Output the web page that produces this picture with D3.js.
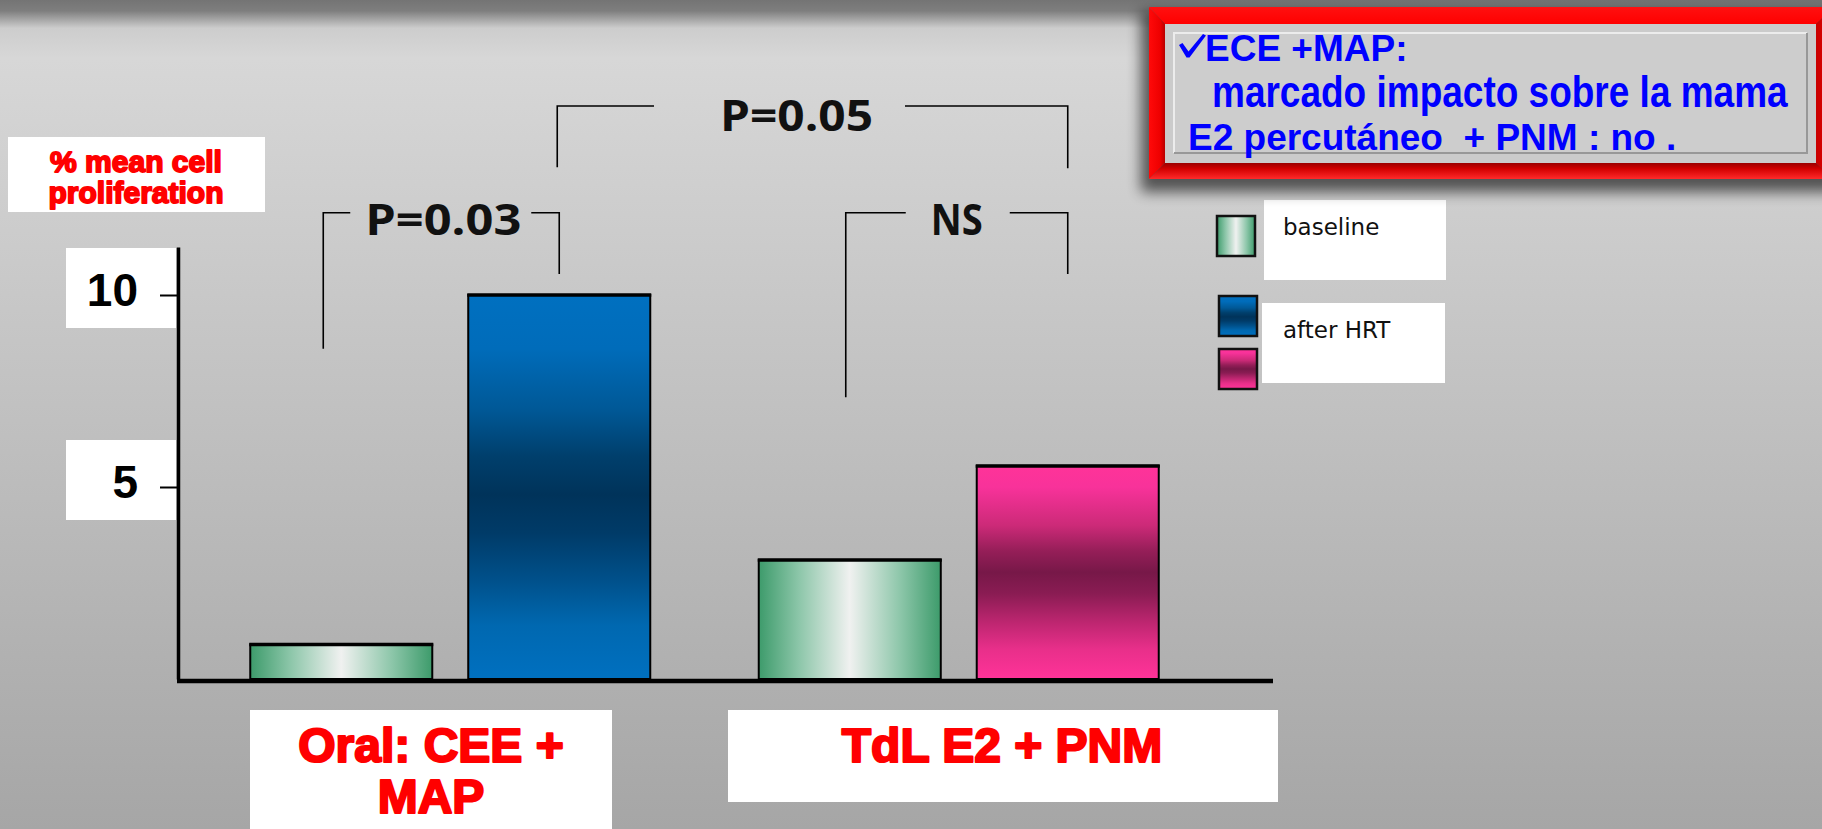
<!DOCTYPE html>
<html>
<head>
<meta charset="utf-8">
<script src="https://cdn.jsdelivr.net/npm/d3@7"></script>
<style>
  html, body { margin: 0; padding: 0; overflow: hidden; background: #c8c8c8; }
  svg { display: block; }
</style>
</head>
<body>
<svg id="chart" width="1822" height="829"></svg>
<script>
// ---- data ----
const categories = ["Oral: CEE + MAP", "TdL E2 + PNM"];
const categoryLines = [["Oral: CEE +", "MAP"], ["TdL E2 + PNM"]];
const seriesNames = ["baseline", "after HRT"];
const baselineValues = [0.9, 3.1];
const afterHrtValues = [10.0, 5.55];
const yTickValues = [5, 10];
const yAxisTitle = ["% mean cell", "proliferation"];
const noteLines = ["ECE +MAP:", "  marcado impacto sobre la mama", "E2 percutáneo  + PNM : no ."];

// pairwise comparisons: ends are [category index, series index]; levels in axis units
const comparisons = [
  { label: "P=0.03", a: [0, 0], b: [0, 1], top: 12.14, aEnd: 8.6,  bEnd: 10.55 },
  { label: "NS",     a: [1, 0], b: [1, 1], top: 12.14, aEnd: 7.34, bEnd: 10.55 },
  { label: "P=0.05", a: [0, 1], b: [1, 1], top: 14.92, aEnd: 13.33, bEnd: 13.3 }
];

// ---- layout ----
const W = 1822, H = 829;
const plotLeft = 178, plotRight = 1273, plotBottom = 679;
const svg = d3.select("#chart");
const defs = svg.append("defs");

function linGrad(id, vertical, stops) {
  const g = defs.append("linearGradient").attr("id", id)
    .attr("x1", 0).attr("y1", 0).attr("x2", vertical ? 0 : 1).attr("y2", vertical ? 1 : 0);
  stops.forEach(([o, c]) => g.append("stop").attr("offset", o).attr("stop-color", c));
  return `url(#${id})`;
}

const bgFill = linGrad("bg", true, [
  [0, "#747474"], [0.013, "#7e7e7e"], [0.034, "#cdcdcd"], [0.07, "#d7d7d7"], [1, "#a6a6a6"]
]);
const greenFill = linGrad("gGreen", false, [
  [0, "#3d9b6b"], [0.22, "#8cc6a9"], [0.5, "#f0f1f0"], [0.78, "#8cc6a9"], [1, "#3d9b6b"]
]);
const blueFill = linGrad("gBlue", true, [
  [0, "#0070c0"], [0.14, "#006cba"], [0.3, "#005896"], [0.42, "#003f6c"], [0.52, "#00335a"],
  [0.62, "#003b68"], [0.74, "#00508a"], [0.86, "#0068b0"], [1, "#0070c0"]
]);
const pinkFill = linGrad("gPink", true, [
  [0, "#ff3399"], [0.1, "#f8329a"], [0.28, "#cc2a78"], [0.4, "#951e58"], [0.5, "#771848"],
  [0.6, "#8a1c53"], [0.72, "#b8256d"], [0.86, "#e82f8a"], [1, "#ff3399"]
]);
const afterFills = [blueFill, pinkFill];

const redTop = linGrad("rTop", true, [[0, "#ff1010"], [1, "#ff0000"]]);
const redLeft = linGrad("rLeft", false, [[0, "#ff0a0a"], [0.7, "#ee0000"], [1, "#b80000"]]);
const redBottom = linGrad("rBottom", true, [[0, "#9a0000"], [0.35, "#d00000"], [1, "#ff2a2a"]]);
const redRight = linGrad("rRight", false, [[0, "#c80000"], [1, "#ee0000"]]);

const shadow = defs.append("filter").attr("id", "soft")
  .attr("x", "-10%").attr("y", "-30%").attr("width", "120%").attr("height", "160%");
shadow.append("feGaussianBlur").attr("stdDeviation", 7);

// background
svg.append("rect").attr("width", W).attr("height", H).attr("fill", bgFill);

// ---- scales ----
const y = d3.scaleLinear().domain([0, 11.25]).range([plotBottom, 247]);
const x0 = d3.scaleBand().domain(categories).range([196, 1213]).padding(0);
const x1 = d3.scaleBand().domain(seriesNames).range([0, 400]).paddingInner(0.165).paddingOuter(0);
const groupStart = c => x0(c) + (x0.bandwidth() - 400) / 2;

const bars = categories.flatMap((c, i) => [
  { cat: c, series: seriesNames[0], value: baselineValues[i], fill: greenFill },
  { cat: c, series: seriesNames[1], value: afterHrtValues[i], fill: afterFills[i] }
]);
const barX = (ci, si) => groupStart(categories[ci]) + x1(seriesNames[si]);

// ---- y-axis title ----
svg.append("rect").attr("x", 8).attr("y", 137).attr("width", 257).attr("height", 75).attr("fill", "#fff");
svg.append("g").selectAll("text").data(yAxisTitle).join("text")
  .attr("x", 136).attr("y", (d, i) => 172 + i * 31)
  .attr("text-anchor", "middle")
  .attr("font-family", "'Liberation Sans', Arial, sans-serif").attr("font-weight", "bold")
  .attr("font-size", 30).attr("fill", "#ff0000").attr("stroke", "#ff0000").attr("stroke-width", 1.8)
  .attr("stroke-linejoin", "round")
  .text(d => d);

// ---- y axis ----
const yAxisG = svg.append("g").attr("transform", `translate(${plotLeft},0)`);
yAxisG.selectAll("rect.tickbox").data(yTickValues).join("rect")
  .attr("class", "tickbox")
  .attr("x", 66 - plotLeft).attr("width", 110)
  .attr("y", d => y(d) - 47).attr("height", 80).attr("fill", "#fff");
yAxisG.call(d3.axisLeft(y).tickValues(yTickValues).tickSize(18).tickSizeOuter(0).tickPadding(22));
yAxisG.select(".domain").attr("stroke", "#000").attr("stroke-width", 3.5);
yAxisG.selectAll(".tick line").attr("stroke", "#000").attr("stroke-width", 2);
yAxisG.selectAll(".tick text")
  .attr("font-family", "'Liberation Sans', Arial, sans-serif").attr("font-weight", "bold")
  .attr("font-size", 46).attr("fill", "#000").attr("dy", null).attr("y", 10);

// ---- bars ----
const barG = svg.append("g");
barG.selectAll("rect").data(bars).join("rect")
  .attr("x", d => groupStart(d.cat) + x1(d.series))
  .attr("width", x1.bandwidth())
  .attr("y", d => y(d.value))
  .attr("height", d => y(0) - y(d.value))
  .attr("fill", d => d.fill)
  .attr("stroke", "#000").attr("stroke-width", 2);
barG.selectAll("line").data(bars).join("line")
  .attr("x1", d => groupStart(d.cat) + x1(d.series) - 1)
  .attr("x2", d => groupStart(d.cat) + x1(d.series) + x1.bandwidth() + 1)
  .attr("y1", d => y(d.value)).attr("y2", d => y(d.value))
  .attr("stroke", "#000").attr("stroke-width", 3.5);

// ---- x axis ----
svg.append("line").attr("x1", plotLeft - 1).attr("x2", plotRight)
  .attr("y1", plotBottom + 2).attr("y2", plotBottom + 2)
  .attr("stroke", "#000").attr("stroke-width", 4.5);

// ---- category labels ----
const labelBoxes = [
  { x: 250, y: 710, w: 362, h: 140, cx: 431 },
  { x: 728, y: 710, w: 550, h: 92, cx: 1002 }
];
const catG = svg.append("g").selectAll("g").data(categories).join("g");
catG.append("rect")
  .attr("x", (d, i) => labelBoxes[i].x).attr("y", (d, i) => labelBoxes[i].y)
  .attr("width", (d, i) => labelBoxes[i].w).attr("height", (d, i) => labelBoxes[i].h)
  .attr("fill", "#fff");
catG.each(function (d, i) {
  d3.select(this).selectAll("text").data(categoryLines[i]).join("text")
    .attr("x", labelBoxes[i].cx).attr("y", (t, j) => 762 + j * 51)
    .attr("text-anchor", "middle")
    .attr("font-family", "'Liberation Sans', Arial, sans-serif").attr("font-weight", "bold")
    .attr("font-size", 48).attr("fill", "#ff0000").attr("stroke", "#ff0000").attr("stroke-width", 2.2)
    .attr("stroke-linejoin", "round")
    .text(t => t);
});

// ---- significance brackets ----
const bracketStyle = [
  { dxA: -18, gapL: 15, gapR: 10, shift: 2,   width: 156, baseDy: 22 },
  { dxA: -4,  gapL: 25, gapR: 27, shift: 0,   width: 52,  baseDy: 22 },
  { dxA: -2,  gapL: 66, gapR: 32, shift: -16, width: 153, baseDy: 25 }
];
const brG = svg.append("g");
comparisons.forEach((c, k) => {
  const s = bracketStyle[k];
  const xa = barX(c.a[0], c.a[1]) + x1.bandwidth() / 2 + s.dxA;
  const xb = barX(c.b[0], c.b[1]) + x1.bandwidth() / 2;
  const yt = y(c.top);
  const cx = (xa + xb) / 2 + s.shift;
  const tl = cx - s.width / 2, tr = cx + s.width / 2;
  const g = brG.append("g").attr("fill", "none").attr("stroke", "#000").attr("stroke-width", 1.6);
  g.append("path").attr("d", `M${xa},${y(c.aEnd)}V${yt}H${tl - s.gapL}`);
  g.append("path").attr("d", `M${tr + s.gapR},${yt}H${xb}V${y(c.bEnd)}`);
  brG.append("text")
    .attr("x", tl).attr("y", yt + s.baseDy)
    .attr("textLength", s.width).attr("lengthAdjust", "spacingAndGlyphs")
    .attr("font-family", "'Open Sans', sans-serif").attr("font-weight", "bold")
    .attr("font-size", 43).attr("fill", "#111")
    .text(c.label);
});

// ---- legend ----
const legendSwatches = [
  { fill: greenFill, x: 1217, y: 216 },
  { fill: blueFill, x: 1219, y: 296 },
  { fill: pinkFill, x: 1219, y: 349 }
];
const legendBoxes = [
  { x: 1264, y: 200, w: 182, h: 80, tx: 1283, ty: 235 },
  { x: 1262, y: 303, w: 183, h: 80, tx: 1283, ty: 338 }
];
const legG = svg.append("g");
legG.selectAll("rect.box").data(seriesNames).join("rect").attr("class", "box")
  .attr("x", (d, i) => legendBoxes[i].x).attr("y", (d, i) => legendBoxes[i].y)
  .attr("width", (d, i) => legendBoxes[i].w).attr("height", (d, i) => legendBoxes[i].h)
  .attr("fill", "#fff");
legG.selectAll("text").data(seriesNames).join("text")
  .attr("x", (d, i) => legendBoxes[i].tx).attr("y", (d, i) => legendBoxes[i].ty)
  .attr("font-family", "'DejaVu Sans', Verdana, sans-serif")
  .attr("font-size", 23).attr("fill", "#111")
  .text(d => d);
legG.selectAll("rect.sw").data(legendSwatches).join("rect").attr("class", "sw")
  .attr("x", d => d.x).attr("y", d => d.y).attr("width", 38).attr("height", 40)
  .attr("fill", d => d.fill).attr("stroke", "#111").attr("stroke-width", 2.5);

// ---- note box ----
const note = svg.append("g");
note.append("rect").attr("x", 1141).attr("y", 12).attr("width", 700).attr("height", 180)
  .attr("fill", "#000").attr("opacity", 0.6).attr("filter", "url(#soft)");
const o = { l: 1149, t: 7, r: 1834, b: 179 }, n = { l: 1165, t: 24, r: 1816, b: 163 };
note.append("polygon").attr("points", `${o.l},${o.t} ${o.r},${o.t} ${n.r},${n.t} ${n.l},${n.t}`).attr("fill", redTop);
note.append("polygon").attr("points", `${o.l},${o.t} ${n.l},${n.t} ${n.l},${n.b} ${o.l},${o.b}`).attr("fill", redLeft);
note.append("polygon").attr("points", `${o.l},${o.b} ${n.l},${n.b} ${n.r},${n.b} ${o.r},${o.b}`).attr("fill", redBottom);
note.append("polygon").attr("points", `${o.r},${o.t} ${o.r},${o.b} ${n.r},${n.b} ${n.r},${n.t}`).attr("fill", redRight);
note.append("rect").attr("x", n.l).attr("y", n.t).attr("width", n.r - n.l).attr("height", n.b - n.t).attr("fill", "#cbcbcb");
note.append("rect").attr("x", 1174).attr("y", 33).attr("width", 633).attr("height", 120).attr("fill", "#cdcdcd");
note.append("path").attr("d", "M1174,153V33H1807").attr("fill", "none").attr("stroke", "#ececec").attr("stroke-width", 2);
note.append("path").attr("d", "M1807,33V153H1174").attr("fill", "none").attr("stroke", "#989898").attr("stroke-width", 2);
// check mark bullet
note.append("path")
  .attr("d", "M1179,45L1182.5,43L1188.5,51.5L1203,34L1206,35.5L1189.5,57.5L1186.5,57.5Z")
  .attr("fill", "#0000ff");
const noteX = [1205, 1212, 1188], noteY = [61, 107, 150], noteScaleY = [1, 1.2, 1];
note.selectAll("text.ln").data(noteLines).join("text").attr("class", "ln")
  .attr("transform", (d, i) => `translate(${noteX[i]},${noteY[i]}) scale(1,${noteScaleY[i]})`)
  .style("white-space", "pre")
  .attr("font-family", "'Liberation Sans', Arial, sans-serif").attr("font-weight", "bold")
  .attr("font-size", 37).attr("fill", "#0000ff")
  .text(d => d.replace(/^\s+/, ""));
</script>
</body>
</html>
